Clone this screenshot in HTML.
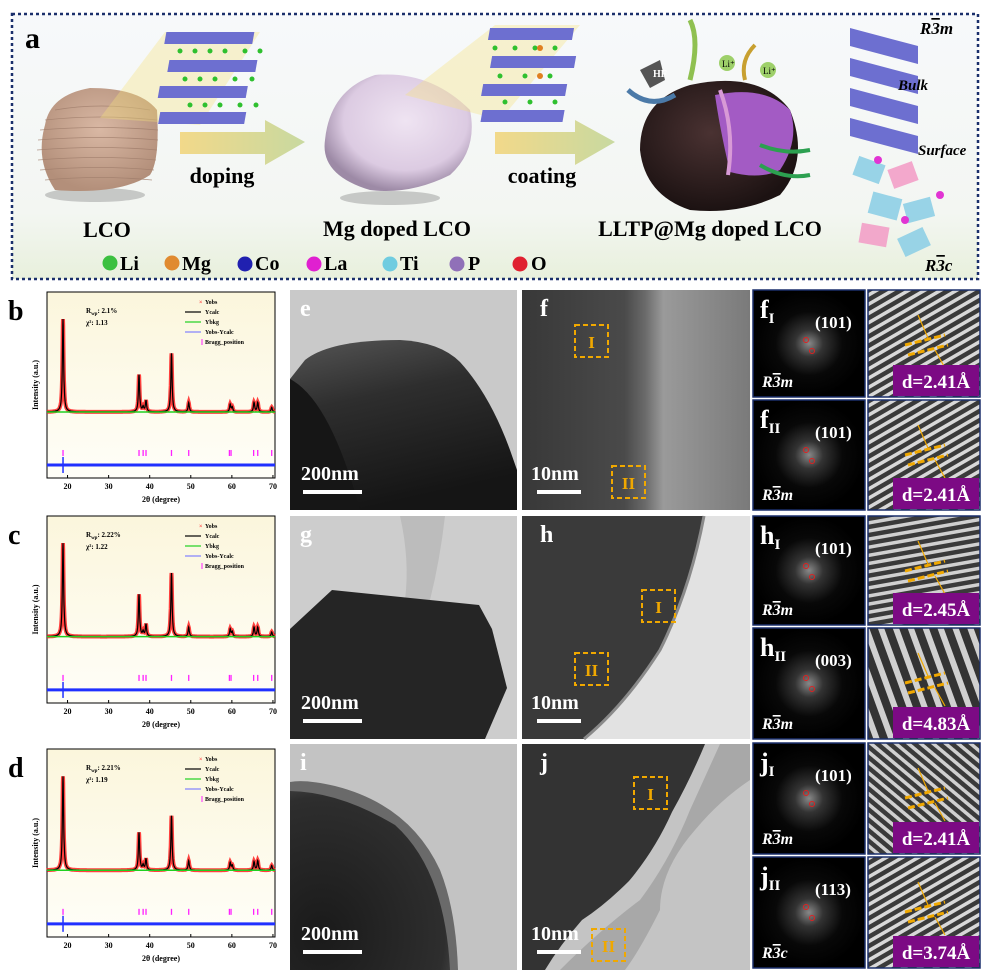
<!DOCTYPE html>
<html><head><meta charset="utf-8">
<style>
html,body{margin:0;padding:0;width:986px;height:976px;background:#fff;overflow:hidden;font-family:"Liberation Serif",serif;}
svg{display:block;}
svg text{font-family:"Liberation Serif",serif;}
</style></head>
<body>
<svg id="fig" width="986" height="976" viewBox="0 0 986 976" xmlns="http://www.w3.org/2000/svg">
<defs>
<linearGradient id="bgA" x1="0" y1="0" x2="0" y2="1"><stop offset="0" stop-color="#f7f9fb"/><stop offset="0.75" stop-color="#f3f6f2"/><stop offset="1" stop-color="#e8f0dc"/></linearGradient>
<linearGradient id="bgX" x1="0" y1="0" x2="0" y2="1"><stop offset="0" stop-color="#fbf6dc"/><stop offset="1" stop-color="#fffef8"/></linearGradient>
<linearGradient id="arr" x1="0" y1="0" x2="1" y2="0"><stop offset="0" stop-color="#f2d98a"/><stop offset="1" stop-color="#c8d9a0"/></linearGradient>
<radialGradient id="tan" cx="0.5" cy="0.4" r="0.6"><stop offset="0" stop-color="#d9b8a4"/><stop offset="1" stop-color="#b38f7a"/></radialGradient>
<radialGradient id="lil" cx="0.55" cy="0.4" r="0.6"><stop offset="0" stop-color="#efe4f2"/><stop offset="0.7" stop-color="#dccbe2"/><stop offset="1" stop-color="#9d8aa6"/></radialGradient>
<radialGradient id="dark" cx="0.45" cy="0.4" r="0.6"><stop offset="0" stop-color="#4a3232"/><stop offset="1" stop-color="#1c1212"/></radialGradient>
<linearGradient id="partE" x1="0" y1="0" x2="0.3" y2="1"><stop offset="0" stop-color="#555"/><stop offset="0.4" stop-color="#2e2e2e"/><stop offset="1" stop-color="#151515"/></linearGradient>
<linearGradient id="temF" x1="0" y1="0" x2="1" y2="0"><stop offset="0" stop-color="#383838"/><stop offset="0.45" stop-color="#4a4a4a"/><stop offset="0.54" stop-color="#6a6a6a"/><stop offset="0.62" stop-color="#9a9a9a"/><stop offset="1" stop-color="#7a7a7a"/></linearGradient>
<radialGradient id="temIb" cx="0.2" cy="0.8" r="0.9"><stop offset="0" stop-color="#1a1a1a"/><stop offset="0.85" stop-color="#2e2e2e"/><stop offset="1" stop-color="#4a4a4a"/></radialGradient>
<radialGradient id="fft" cx="0.5" cy="0.5" r="0.5"><stop offset="0" stop-color="#888"/><stop offset="0.25" stop-color="#333"/><stop offset="0.6" stop-color="#080808"/><stop offset="1" stop-color="#000"/></radialGradient>
<pattern id="stripesA" width="8" height="8" patternUnits="userSpaceOnUse" patternTransform="rotate(-30)"><rect width="8" height="8" fill="#3a3a3a"/><rect width="8" height="3.5" fill="#d8d8d8"/></pattern>
<pattern id="stripesB" width="8" height="8" patternUnits="userSpaceOnUse" patternTransform="rotate(-10)"><rect width="8" height="8" fill="#3a3a3a"/><rect width="8" height="3.5" fill="#d0d0d0"/></pattern>
<pattern id="stripesC" width="14" height="14" patternUnits="userSpaceOnUse" patternTransform="rotate(70)"><rect width="14" height="14" fill="#333"/><rect width="14" height="6" fill="#d0d0d0"/></pattern>
<pattern id="stripesD" width="8" height="8" patternUnits="userSpaceOnUse" patternTransform="rotate(40)"><rect width="8" height="8" fill="#3a3a3a"/><rect width="8" height="3.5" fill="#d0d0d0"/></pattern>
</defs>

<!-- Panel a -->
<g>
<rect x="12" y="14" width="966" height="265" fill="url(#bgA)" stroke="#1a2f6b" stroke-width="2.5" stroke-dasharray="3,3"/>
<text x="25" y="48" font-size="30" font-weight="bold">a</text>
<ellipse cx="95" cy="195" rx="50" ry="7" fill="#999" opacity="0.5"/>
<path d="M45 125 Q50 95 90 88 Q140 88 157 110 Q160 160 150 175 Q120 195 55 190 Q35 160 45 125Z" fill="url(#tan)"/>
<g stroke="#a07e6c" stroke-width="0.8" fill="none" opacity="0.8">
<path d="M40 130 Q100 125 158 130"/><path d="M38 140 Q100 135 158 140"/><path d="M37 150 Q100 145 157 150"/><path d="M38 160 Q100 155 156 160"/><path d="M40 170 Q100 165 154 170"/><path d="M45 180 Q100 175 152 180"/><path d="M45 120 Q100 114 157 120"/><path d="M55 110 Q100 102 150 110"/></g>
<polygon points="100,118 165,32 260,32 200,125" fill="#f5e27a" opacity="0.35"/>
<g>
<rect x="172" y="32" width="88" height="12" fill="#6d6fd0" transform="skewX(-10)" />
<rect x="180" y="60" width="88" height="12" fill="#6d6fd0" transform="skewX(-10)"/>
<rect x="175" y="86" width="88" height="12" fill="#6d6fd0" transform="skewX(-10)"/>
<rect x="180" y="112" width="86" height="12" fill="#6d6fd0" transform="skewX(-10)"/>
<g fill="#2fc02f"><circle cx="180" cy="51" r="2.5"/><circle cx="195" cy="51" r="2.5"/><circle cx="210" cy="51" r="2.5"/><circle cx="225" cy="51" r="2.5"/><circle cx="245" cy="51" r="2.5"/><circle cx="260" cy="51" r="2.5"/>
<circle cx="185" cy="79" r="2.5"/><circle cx="200" cy="79" r="2.5"/><circle cx="215" cy="79" r="2.5"/><circle cx="235" cy="79" r="2.5"/><circle cx="252" cy="79" r="2.5"/>
<circle cx="190" cy="105" r="2.5"/><circle cx="205" cy="105" r="2.5"/><circle cx="220" cy="105" r="2.5"/><circle cx="240" cy="105" r="2.5"/><circle cx="256" cy="105" r="2.5"/></g></g>
<polygon points="180,132 265,132 265,120 305,142 265,165 265,154 180,154" fill="url(#arr)"/>
<text x="222" y="183" font-size="22" font-weight="bold" text-anchor="middle">doping</text>
<text x="107" y="237" font-size="22" font-weight="bold" text-anchor="middle">LCO</text>
<ellipse cx="390" cy="198" rx="50" ry="7" fill="#999" opacity="0.5"/>
<path d="M325 140 Q330 90 375 75 Q430 70 470 110 Q478 150 450 175 Q410 195 370 190 Q320 175 325 140Z" fill="url(#lil)"/>
<text x="397" y="236" font-size="22" font-weight="bold" text-anchor="middle">Mg doped LCO</text>
<polygon points="405,95 495,25 580,25 500,120" fill="#f5e27a" opacity="0.35"/>
<g>
<rect x="495" y="28" width="84" height="12" fill="#6d6fd0" transform="skewX(-10)"/>
<rect x="502" y="56" width="84" height="12" fill="#6d6fd0" transform="skewX(-10)"/>
<rect x="498" y="84" width="84" height="12" fill="#6d6fd0" transform="skewX(-10)"/>
<rect x="502" y="110" width="82" height="12" fill="#6d6fd0" transform="skewX(-10)"/>
<g fill="#2fc02f"><circle cx="495" cy="48" r="2.5"/><circle cx="515" cy="48" r="2.5"/><circle cx="535" cy="48" r="2.5"/><circle cx="555" cy="48" r="2.5"/><circle cx="500" cy="76" r="2.5"/><circle cx="525" cy="76" r="2.5"/><circle cx="550" cy="76" r="2.5"/><circle cx="505" cy="102" r="2.5"/><circle cx="530" cy="102" r="2.5"/><circle cx="555" cy="102" r="2.5"/></g>
<circle cx="540" cy="48" r="3" fill="#e08020"/><circle cx="540" cy="76" r="3" fill="#e08020"/></g>
<polygon points="495,132 575,132 575,120 615,142 575,165 575,154 495,154" fill="url(#arr)"/>
<text x="542" y="183" font-size="22" font-weight="bold" text-anchor="middle">coating</text>
<path d="M640 150 Q640 100 690 85 Q760 70 790 110 Q810 160 780 195 Q740 215 690 210 Q645 195 640 150Z" fill="url(#dark)"/>
<path d="M715 95 Q765 85 790 110 Q800 140 780 170 Q760 180 730 172 Q720 130 715 95Z" fill="#a35bc4"/>
<path d="M720 90 Q735 130 728 175" stroke="#d89ad6" stroke-width="4" fill="none"/>
<text x="710" y="236" font-size="22" font-weight="bold" text-anchor="middle">LLTP@Mg doped LCO</text>
<polygon points="640,70 660,60 665,80 650,88" fill="#555"/>
<text x="653" y="77" font-size="10" fill="#fff" font-weight="bold">HF</text>
<path d="M628 90 Q650 110 675 95" stroke="#4b7aa8" stroke-width="5" fill="none"/>
<path d="M690 80 Q700 40 690 20" stroke="#8fc050" stroke-width="5" fill="none"/>
<circle cx="727" cy="63" r="8" fill="#9ed06a"/><circle cx="768" cy="70" r="8" fill="#9ed06a"/>
<text x="722" y="67" font-size="9">Li⁺</text><text x="763" y="74" font-size="9">Li⁺</text>
<path d="M745 80 Q740 60 755 45" stroke="#c8a030" stroke-width="4" fill="none"/>
<path d="M760 145 Q785 155 810 150" stroke="#2ca050" stroke-width="4" fill="none"/>
<path d="M760 165 Q785 180 810 175" stroke="#2ca050" stroke-width="4" fill="none"/>
<g>
<polygon points="850,28 918,46 918,64 850,46" fill="#6d6fd0"/>
<polygon points="850,58 918,76 918,94 850,76" fill="#6d6fd0"/>
<polygon points="850,88 918,106 918,124 850,106" fill="#6d6fd0"/>
<polygon points="850,118 918,136 918,154 850,136" fill="#6d6fd0"/>
</g>
<g opacity="0.9">
<rect x="855" y="160" width="28" height="20" fill="#8fd0e6" transform="rotate(20 869 170)"/>
<rect x="890" y="165" width="26" height="20" fill="#f3a0c8" transform="rotate(-20 903 175)"/>
<rect x="870" y="195" width="30" height="22" fill="#8fd0e6" transform="rotate(15 885 206)"/>
<rect x="905" y="200" width="28" height="20" fill="#8fd0e6" transform="rotate(-15 919 210)"/>
<rect x="860" y="225" width="28" height="20" fill="#f3a0c8" transform="rotate(10 874 235)"/>
<rect x="900" y="232" width="28" height="20" fill="#8fd0e6" transform="rotate(-25 914 242)"/>
<circle cx="878" cy="160" r="4" fill="#e020d0"/><circle cx="905" cy="220" r="4" fill="#e020d0"/><circle cx="940" cy="195" r="4" fill="#e020d0"/>
</g>
<text x="920" y="34" font-size="17" font-weight="bold" font-style="italic">R<tspan text-decoration="overline">3</tspan>m</text>
<text x="898" y="90" font-size="15" font-weight="bold" font-style="italic">Bulk</text>
<text x="918" y="155" font-size="15" font-weight="bold" font-style="italic">Surface</text>
<text x="925" y="271" font-size="17" font-weight="bold" font-style="italic">R<tspan text-decoration="overline">3</tspan>c</text>
<g font-size="20" font-weight="bold">
<circle cx="110" cy="263" r="7.5" fill="#3cc040"/><text x="120" y="270">Li</text>
<circle cx="172" cy="263" r="7.5" fill="#e08a30"/><text x="182" y="270">Mg</text>
<circle cx="245" cy="264" r="7.5" fill="#2020b0"/><text x="255" y="270">Co</text>
<circle cx="314" cy="264" r="7.5" fill="#e020d0"/><text x="324" y="270">La</text>
<circle cx="390" cy="264" r="7.5" fill="#70cce0"/><text x="400" y="270">Ti</text>
<circle cx="457" cy="264" r="7.5" fill="#9070b8"/><text x="468" y="270">P</text>
<circle cx="520" cy="264" r="7.5" fill="#e02030"/><text x="531" y="270">O</text>
</g>
</g>

<!-- Low-mag TEM images -->
<g>
<rect x="290" y="290" width="227" height="220" fill="#c9c9c9"/>
<path d="M290 379 L305 360 Q330 340 400 340 Q440 342 460 362 Q490 395 510 450 L517 470 L517 510 L290 510Z" fill="url(#partE)"/>
<path d="M290 379 Q330 400 360 510 L290 510Z" fill="#161616"/>
</g>
<g>
<rect x="290" y="516" width="227" height="223" fill="#cdcdcd"/>
<path d="M400 516 Q410 560 405 600 L430 600 Q440 560 445 516Z" fill="#bcbcbc"/>
<polygon points="290,629 332,590 479,605 492,629 507,688 485,739 290,739" fill="#252525"/>
</g>
<g>
<rect x="290" y="744" width="227" height="226" fill="#c3c3c3"/>
<path d="M290 782 Q305 779 335 786 Q410 805 440 870 Q456 910 458 970 L290 970Z" fill="#6a6a6a"/>
<path d="M290 791 Q340 792 395 825 Q445 870 450 970 L290 970Z" fill="url(#temIb)"/>
</g>
<!-- HRTEM -->
<g>
<rect x="522" y="290" width="228" height="220" fill="url(#temF)"/>
</g>
<g>
<rect x="522" y="516" width="228" height="223" fill="#e2e2e2"/>
<path d="M522 516 L704 516 Q690 590 660 650 Q625 705 584 739 L522 739Z" fill="#3a3a3a"/>
<path d="M704 516 Q690 590 660 650 Q625 705 584 739" fill="none" stroke="#8a8a8a" stroke-width="3"/>
</g>
<g>
<rect x="522" y="744" width="228" height="226" fill="#c4c4c4"/>
<path d="M720 744 L750 744 L750 780 Q720 800 695 830 Q660 870 660 910 Q640 950 625 970 L560 970 Q600 930 640 900 Q670 860 690 810Z" fill="#a8a8a8"/>
<path d="M522 744 L705 744 Q690 780 672 812 Q655 850 629 881 Q605 905 582 920 Q560 945 545 970 L522 970Z" fill="#333"/>
</g>

<g id="xrd"></g>
<g id="tem"></g>
</svg>

<script>
// XRD data (2θ positions and relative peak heights)
const peakPos = [18.9, 37.4, 38.4, 39.1, 45.3, 49.5, 59.6, 60.1, 65.4, 66.3, 69.7];
const heightsB = [1.0, 0.40, 0.05, 0.12, 0.63, 0.1, 0.08, 0.05, 0.1, 0.1, 0.05];
const heightsC = [1.0, 0.45, 0.05, 0.13, 0.68, 0.1, 0.08, 0.05, 0.1, 0.1, 0.05];
const heightsD = [1.0, 0.40, 0.05, 0.12, 0.58, 0.1, 0.08, 0.05, 0.09, 0.1, 0.05];
const braggPos = [18.9, 37.4, 38.4, 39.1, 45.3, 49.5, 59.4, 59.8, 65.3, 66.3, 69.7];
const xTicks = [20, 30, 40, 50, 60, 70];
const panelsXRD = [
 {label:'b', top:292, h:186, heights:heightsB, rwp:'2.1%', chi:'1.13'},
 {label:'c', top:516, h:187, heights:heightsC, rwp:'2.22%', chi:'1.22'},
 {label:'d', top:749, h:188, heights:heightsD, rwp:'2.21%', chi:'1.19'}
];
const NS='http://www.w3.org/2000/svg';
function mk(tag, attrs, parent){const e=document.createElementNS(NS,tag);for(const k in attrs)e.setAttribute(k,attrs[k]);parent.appendChild(e);return e;}
const xrd=document.getElementById('xrd');
const X0=47, X1=275, DMIN=15, DMAX=70.5;
function xs(d){return X0+(d-DMIN)/(DMAX-DMIN)*(X1-X0);}
panelsXRD.forEach(p=>{
  const g=mk('g',{},xrd);
  
  
  const top=p.top, bot=top+p.h;
  mk('rect',{x:X0,y:top,width:X1-X0,height:p.h,fill:'url(#bgX)',stroke:'#000','stroke-width':1},g);
  const base=top+p.h*0.645, peakH=p.h*0.5;
  function yOf(d){let s=0;peakPos.forEach((pp,i)=>{const w=0.18;s+=p.heights[i]/(1+((d-pp)/w)**2);});return base-s*peakH;}
  let pts=[];for(let d=DMIN;d<=DMAX;d+=0.05)pts.push(xs(d).toFixed(1)+','+yOf(d).toFixed(1));
  const obs=mk('polyline',{points:pts.join(' '),fill:'none',stroke:'#ff2020','stroke-width':4,opacity:0.85},g);
  
  
  const calc=mk('polyline',{points:pts.join(' '),fill:'none',stroke:'#000','stroke-width':1.2},g);
  
  
  const bk=mk('line',{x1:X0,x2:X1,y1:base,y2:base,stroke:'#20d020','stroke-width':1.5},g);
  
  
  const dy=top+p.h*0.93;
  const diff=mk('line',{x1:X0,x2:X1,y1:dy,y2:dy,stroke:'#2030ff','stroke-width':3},g);
  
  
  mk('line',{x1:xs(18.9),x2:xs(18.9),y1:dy-8,y2:dy+8,stroke:'#2030ff','stroke-width':1.5},g);
  braggPos.forEach(b=>{const t=mk('line',{x1:xs(b),x2:xs(b),y1:dy-15,y2:dy-9,stroke:'#ff20ff','stroke-width':1.3},g);
    
    });
  xTicks.forEach(t=>{mk('line',{x1:xs(t),x2:xs(t),y1:bot,y2:bot-3,stroke:'#000'},g);
    const tx=mk('text',{x:xs(t),y:bot+11,'font-size':8,'font-weight':'bold','text-anchor':'middle'},g);tx.textContent=t;
    
    });
  const xl=mk('text',{x:(X0+X1)/2,y:bot+24,'font-size':8,'font-weight':'bold','text-anchor':'middle'},g);xl.textContent='2θ (degree)';
  
  
  const yl=mk('text',{x:0,y:0,'font-size':8,'font-weight':'bold','text-anchor':'middle',transform:`translate(38,${top+p.h*0.5}) rotate(-90)`},g);yl.textContent='Intensity (a.u.)';
  
  
  const lb=mk('text',{x:8,y:top+28,'font-size':28,'font-weight':'bold'},g);lb.textContent=p.label;
  
  
  const r=mk('text',{x:86,y:top+21,'font-size':7,'font-weight':'bold'},g);r.innerHTML='R<tspan font-size="5" dy="2">wp</tspan><tspan dy="-2">:  '+p.rwp+'</tspan>';
  
  
  const c=mk('text',{x:86,y:top+33,'font-size':7,'font-weight':'bold'},g);c.textContent='χ²:    '+p.chi;
  
  
  const leg=mk('g',{'font-size':6,'font-weight':'bold'},g);
  
  
  const items=[['Yobs','#ff4040','x'],['Ycalc','#000','l'],['Ybkg','#20d020','l'],['Yobs-Ycalc','#8080ff','l'],['Bragg_position','#ff20ff','t']];
  items.forEach((it,i)=>{const y=top+10+i*10;
    if(it[2]=='x'){const m=mk('text',{x:199,y:y+2,fill:it[1],'font-size':6},leg);m.textContent='×';}
    else if(it[2]=='l')mk('line',{x1:185,x2:201,y1:y,y2:y,stroke:it[1],'stroke-width':1.2},leg);
    else mk('line',{x1:202,x2:202,y1:y-3,y2:y+3,stroke:it[1],'stroke-width':1},leg);
    const t=mk('text',{x:205,y:y+2},leg);t.textContent=it[0];});
});

// TEM labels, scale bars, region boxes
const tem=document.getElementById('tem');
const rows=[
 {y:290,h:220,a:'e',b:'f',boxes:[[575,325],[612,466]]},
 {y:516,h:223,a:'g',b:'h',boxes:[[642,590],[575,653]]},
 {y:744,h:226,a:'i',b:'j',boxes:[[634,777],[592,929]]}];
rows.forEach((r,ri)=>{
  const g=mk('g',{},tem);
  
  
  const l1=mk('text',{x:300,y:r.y+26,'font-size':24,'font-weight':'bold',fill:'#fff'},g);l1.textContent=r.a;
  
  
  const s1=mk('text',{x:301,y:r.y+r.h-30,'font-size':20,'font-weight':'bold',fill:'#fff'},g);s1.textContent='200nm';
  
  
  mk('rect',{x:303,y:r.y+r.h-20,width:59,height:4,fill:'#fff'},g);
  const l2=mk('text',{x:540,y:r.y+26,'font-size':24,'font-weight':'bold',fill:'#fff'},g);l2.textContent=r.b;
  
  
  const s2=mk('text',{x:531,y:r.y+r.h-30,'font-size':20,'font-weight':'bold',fill:'#fff'},g);s2.textContent='10nm';
  
  
  mk('rect',{x:537,y:r.y+r.h-20,width:44,height:4,fill:'#fff'},g);
  r.boxes.forEach((b,bi)=>{mk('rect',{x:b[0],y:b[1],width:33,height:32,fill:'none',stroke:'#f0a800','stroke-width':2,'stroke-dasharray':'5,3'},g);
    const t=mk('text',{x:b[0]+16.5,y:b[1]+23,'font-size':17,'font-weight':'bold',fill:'#f0a800','text-anchor':'middle'},g);t.textContent=bi==0?'I':'II';
    
    });
});
// FFT + fringe sub-panels
const subs=[
 {y:290,h:107,p:'f',sub:'I',hkl:'(101)',sg:'m',d:'2.41Å',pat:'stripesA'},
 {y:400,h:110,p:'f',sub:'II',hkl:'(101)',sg:'m',d:'2.41Å',pat:'stripesA'},
 {y:516,h:109,p:'h',sub:'I',hkl:'(101)',sg:'m',d:'2.45Å',pat:'stripesB'},
 {y:628,h:111,p:'h',sub:'II',hkl:'(003)',sg:'m',d:'4.83Å',pat:'stripesC'},
 {y:743,h:111,p:'j',sub:'I',hkl:'(101)',sg:'m',d:'2.41Å',pat:'stripesD'},
 {y:857,h:111,p:'j',sub:'II',hkl:'(113)',sg:'c',d:'3.74Å',pat:'stripesA'}
];
subs.forEach(s=>{
  const g=mk('g',{},tem);
  
  
  mk('rect',{x:753,y:s.y,width:112,height:s.h,fill:'url(#fft)',stroke:'#1a2f6b','stroke-width':1.5},g);
  mk('circle',{cx:806,cy:s.y+50,r:2.5,fill:'none',stroke:'#e02020'},g);
  mk('circle',{cx:812,cy:s.y+61,r:2.5,fill:'none',stroke:'#e02020'},g);
  const t=mk('text',{x:760,y:s.y+28,'font-size':26,'font-weight':'bold',fill:'#fff'},g);t.innerHTML=s.p+'<tspan font-size="15" dy="5">'+s.sub+'</tspan>';
  
  
  const h=mk('text',{x:815,y:s.y+38,'font-size':17,'font-weight':'bold',fill:'#fff'},g);h.textContent=s.hkl;
  
  
  const sg=mk('text',{x:762,y:s.y+s.h-10,'font-size':16,'font-weight':'bold','font-style':'italic',fill:'#fff'},g);sg.innerHTML='R<tspan text-decoration="overline">3</tspan>'+s.sg;
  
  
  mk('rect',{x:868,y:s.y,width:112,height:s.h,fill:'url(#'+s.pat+')',stroke:'#1a2f6b','stroke-width':1.5},g);
  mk('line',{x1:905,y1:s.y+55,x2:945,y2:s.y+45,stroke:'#f0a800','stroke-width':3,'stroke-dasharray':'7,3'},g);
  mk('line',{x1:908,y1:s.y+65,x2:948,y2:s.y+55,stroke:'#f0a800','stroke-width':3,'stroke-dasharray':'7,3'},g);
  mk('line',{x1:918,y1:s.y+25,x2:928,y2:s.y+48,stroke:'#f0a800','stroke-width':1.2},g);
  mk('line',{x1:945,y1:s.y+78,x2:935,y2:s.y+60,stroke:'#f0a800','stroke-width':1.2},g);
  mk('rect',{x:893,y:s.y+s.h-32,width:86,height:31,fill:'#7c0a84'},g);
  const d=mk('text',{x:936,y:s.y+s.h-9,'font-size':19,'font-weight':'bold',fill:'#fff','text-anchor':'middle'},g);d.textContent='d='+s.d;
  
  
});
</script>
</body></html>
